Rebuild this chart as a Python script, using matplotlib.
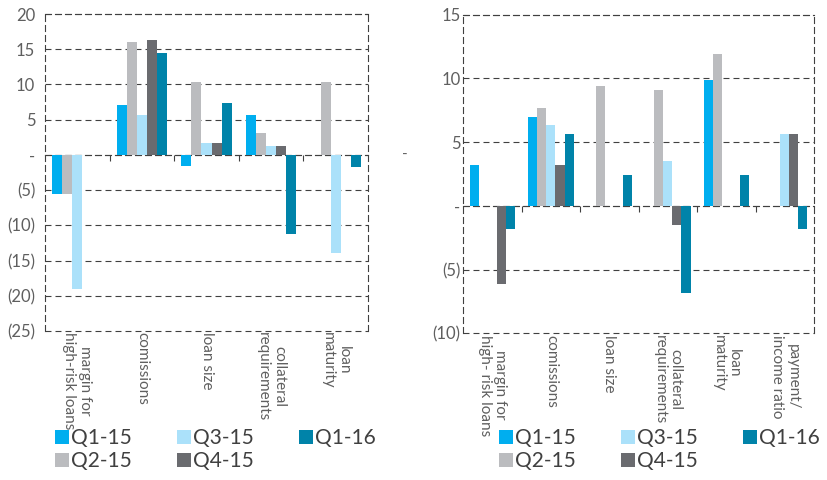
import numpy as np
import matplotlib.pyplot as plt
from matplotlib.ticker import FuncFormatter

plt.rcParams['font.family'] = ['Lato', 'DejaVu Sans']
plt.rcParams['lines.scale_dashes'] = False

series = ['Q1-15', 'Q2-15', 'Q3-15', 'Q4-15', 'Q1-16']
colors = ['#00aeef', '#bbbcbf', '#abe1fa', '#6a6b6f', '#0083a9']

# left panel
left_cats = ['margin for\nhigh-risk loans', 'comissions', 'loan size',
             'collateral\nrequirements', 'loan\nmaturity']
left_q1_15 = [-5.5, 7.1, -1.6, 5.6, 0]
left_q2_15 = [-5.5, 16.0, 10.4, 3.1, 10.4]
left_q3_15 = [-19.0, 5.6, 1.7, 1.3, -13.9]
left_q4_15 = [0, 16.3, 1.7, 1.3, 0]
left_q1_16 = [0, 14.4, 7.3, -11.2, -1.75]

# right panel
right_cats = ['margin for\nhigh- risk loans', 'comissions', 'loan size',
              'collateral\nrequirements', 'loan\nmaturity', 'payment/\nincome ratio']
right_q1_15 = [3.2, 7.0, 0, 0, 9.9, 0]
right_q2_15 = [0, 7.7, 9.4, 9.1, 11.95, 0]
right_q3_15 = [0, 6.35, 0, 3.5, 0, 5.6]
right_q4_15 = [-6.1, 3.2, 0, -1.5, 0, 5.6]
right_q1_16 = [-1.8, 5.6, 2.45, -6.8, 2.45, -1.8]

text_color = '#5f5f5f'
line_color = '#404040'
dash = (0, (4.3, 2.9))


def fmt(v, pos):
    if abs(v) < 1e-9:
        return '-'
    if v < 0:
        return '(%d)' % round(-v)
    return '%d' % round(v)


def draw(ax, cats, values, ylo, yhi, pad):
    x = np.arange(len(cats))
    w = 0.155
    for i, (name, vals, c) in enumerate(zip(series, values, colors)):
        ax.bar(x + (i - 2) * w, vals, w, color=c, label=name,
               linewidth=0, zorder=3)
    ax.set_xlim(-0.5, len(cats) - 0.5)
    ax.set_ylim(ylo, yhi)
    ax.set_yticks(np.arange(ylo, yhi + 1, 5))
    ax.yaxis.set_major_formatter(FuncFormatter(fmt))
    ax.grid(axis='y', color=line_color, linestyle=dash, linewidth=0.8, zorder=1)
    for gl in ax.get_ygridlines():
        gl.set_clip_on(False)
    ax.set_xticks(x[:-1] + 0.5)
    ax.set_xticklabels([])
    ax.spines['bottom'].set_position(('data', 0))
    for s in ax.spines.values():
        s.set_linestyle(dash)
        s.set_linewidth(0.8)
        s.set_edgecolor(line_color)
    ax.tick_params(axis='x', direction='out', length=4, width=0.8, color=line_color)
    ax.tick_params(axis='y', length=0, pad=pad, labelsize=12, labelcolor=text_color)
    trans = ax.get_xaxis_transform()
    for xi, c in zip(x, cats):
        ax.text(xi, -0.004, c, rotation=-90, ha='center', va='top',
                transform=trans, fontsize=11, color=text_color, linespacing=1.15)


fig = plt.figure(figsize=(8.27, 4.8), dpi=100)
ax1 = fig.add_axes([0.0544, 0.3104, 0.3906, 0.6604])
ax2 = fig.add_axes([0.5602, 0.3056, 0.4241, 0.6638])

draw(ax1, left_cats, [left_q1_15, left_q2_15, left_q3_15, left_q4_15, left_q1_16], -25, 20, 7)
draw(ax2, right_cats, [right_q1_15, right_q2_15, right_q3_15, right_q4_15, right_q1_16], -10, 15, 2)

fig.text(405 / 827, 1 - 155 / 480, '-', color=text_color, fontsize=11, ha='center', va='center')

for ax, lx in [(ax1, 55 / 827), (ax2, 499 / 827)]:
    ax.legend(loc='upper left', bbox_to_anchor=(lx, 0.108), bbox_transform=fig.transFigure,
              ncol=3, frameon=False, fontsize=15, labelcolor='#404040',
              handlelength=0.65, handleheight=0.65, handletextpad=0.1,
              columnspacing=2.2, labelspacing=0.15, borderpad=0, borderaxespad=0)

fig.savefig('out.png', dpi=100)
